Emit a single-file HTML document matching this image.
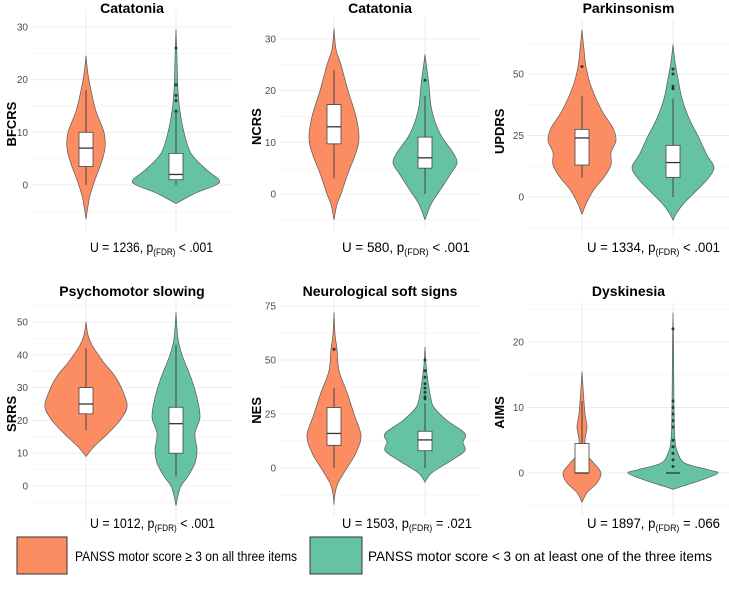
<!DOCTYPE html>
<html><head><meta charset="utf-8"><style>
body{margin:0;background:#fff;}
svg{display:block;font-family:"Liberation Sans",sans-serif;}
</style></head><body>
<svg id="c" width="729" height="593" viewBox="0 0 729 593">
<g id="panels"></g>
<g>
<rect x="17" y="537" width="50" height="37" fill="#FC8D62" stroke="#333" stroke-width="1"/>
<text x="75" y="561" font-size="14" fill="#000" textLength="222" lengthAdjust="spacingAndGlyphs">PANSS motor score ≥ 3 on all three items</text>
<rect x="310" y="537" width="52" height="37" fill="#66C2A5" stroke="#333" stroke-width="1"/>
<text x="368" y="561" font-size="14" fill="#000" textLength="344" lengthAdjust="spacingAndGlyphs">PANSS motor score &lt; 3 on at least one of the three items</text>
</g>
</svg>
<script>
// ---- data ----
const titles = ["Catatonia","Catatonia","Parkinsonism","Psychomotor slowing","Neurological soft signs","Dyskinesia"];
const yLabels = ["BFCRS","NCRS","UPDRS","SRRS","NES","AIMS"];
const ticks = [[0,10,20,30],[0,10,20,30],[0,25,50],[0,10,20,30,40,50],[0,25,50,75],[0,10,20]];
const stats = [["1236","< .001"],["580","< .001"],["1334","< .001"],["1012","< .001"],["1503","= .021"],["1897","= .066"]];
// violin profiles: [value, half-width]
const violinHigh = [
 [[24.5,0],[21,2],[18,5],[14,10],[10,18],[7,19],[4,15],[1,9],[-2,4],[-4,2],[-6.5,0]],
 [[32,0],[28,2],[25,7],[20,14],[15,22],[11,25],[8,22],[4,14],[0,7],[-2,3],[-5,0]],
 [[68,0],[60,2],[53,4],[45,9],[35,20],[28,31],[23,34],[18,29],[13,29],[8,22],[3,12],[-2,5],[-7,0]],
 [[50,0],[46,2],[43,6],[38,17],[33,30],[28,38],[24,41],[20,34],[16,22],[12,8],[9,0]],
 [[72,0],[62,1],[55,3],[45,5],[35,13],[25,20],[15,27],[7,22],[0,13],[-7,4],[-12,1],[-17,0]],
 [[15.5,0],[12,1.5],[9,3],[7,5],[5,3],[3,4],[1.5,12],[0,19],[-1.5,15],[-3,5],[-4.5,0]]
];
const violinLow = [
 [[29.5,0],[24,1],[18,2],[14,4],[10,8],[6,15],[3,30],[1,43],[0,40],[-1.5,20],[-3,5],[-3.5,0]],
 [[27,0],[24,2],[21,4],[17,6],[14,10],[11,17],[8,28],[6,32],[4,26],[1,16],[-2,6],[-5,0]],
 [[62,0],[55,2],[48,5],[40,9],[32,16],[24,26],[17,34],[12,41],[7,34],[2,22],[-3,10],[-7,3],[-9.5,0]],
 [[53,0],[45,2],[40,6],[33,15],[27,21],[21,24],[16,19],[11,21],[7,19],[3,12],[0,5],[-3,2],[-6,0]],
 [[56,0],[48,1],[40,3],[32,6],[28,9],[22,22],[16,40],[12,38],[8,40],[4,28],[0,14],[-3,5],[-6.5,0]],
 [[24.5,0],[20,0.5],[10,1],[5,2],[3,5],[1.5,12],[0.5,35],[0,45],[-1,30],[-2,10],[-2.5,0]]
];
// box: [whiskerLow, q1, median, q3, whiskerHigh]
const boxHigh = [[0,3.5,7,10,18],[3,9.7,13,17.3,24],[8,13,24,27.5,41],[17,22,25,30,42],[0,10.5,16,28,37],[0,0,0,4.5,11]];
const boxLow = [[0,1,2,6,14],[0,5,7,11,19],[0,8,14,21,40],[3,10,19,24,43],[0,8,13,17,30],[0,0,0,0,0]];
const outHigh = [[],[],[53],[],[55],[]];
const outLow = [[14,16,17,19,26],[22],[44,45,50,52],[],[32,33,35,37,39,42,45,50],[1,2,3,4,5,7,8,9,10,11,22]];
// ---- layout (pixels) ----
const layout = [
 {gx0:32,gx1:232,cx:[86,176],y0:185,ppu:5.27,vmin:-7,vmax:32,ty:13,yl:12,statX:90,statY:252,statW:123},
 {gx0:280,gx1:480,cx:[334,425],y0:194,ppu:5.17,vmin:-5,vmax:33,ty:13,yl:257,statX:342,statY:252,statW:128},
 {gx0:528,gx1:729,cx:[582,673],y0:197,ppu:2.46,vmin:-12.5,vmax:70,ty:13,yl:500,statX:587,statY:252,statW:133},
 {gx0:32,gx1:232,cx:[86,176],y0:486,ppu:3.28,vmin:-8,vmax:55,ty:296,yl:12,statX:90,statY:528,statW:125},
 {gx0:280,gx1:480,cx:[334,425],y0:468,ppu:2.16,vmin:-18,vmax:76,ty:296,yl:257,statX:342,statY:528,statW:130},
 {gx0:528,gx1:729,cx:[582,673],y0:473,ppu:6.55,vmin:-5,vmax:25,ty:296,yl:500,statX:587,statY:528,statW:133}
];
const NS="http://www.w3.org/2000/svg";
function mk(tag,attrs,parent){const e=document.createElementNS(NS,tag);for(const k in attrs)e.setAttribute(k,attrs[k]);parent.appendChild(e);return e;}
function smoothSide(pts){
  let d="";
  for(let i=0;i<pts.length-1;i++){
    const p0=pts[Math.max(i-1,0)],p1=pts[i],p2=pts[i+1],p3=pts[Math.min(i+2,pts.length-1)];
    const c1=[p1[0]+(p2[0]-p0[0])/6,p1[1]+(p2[1]-p0[1])/6];
    const c2=[p2[0]-(p3[0]-p1[0])/6,p2[1]-(p3[1]-p1[1])/6];
    d+=` C${c1[0].toFixed(1)},${c1[1].toFixed(1)} ${c2[0].toFixed(1)},${c2[1].toFixed(1)} ${p2[0].toFixed(1)},${p2[1].toFixed(1)}`;
  }
  return d;
}
const root=document.getElementById('panels');
const fills=["#FC8D62","#66C2A5"];
layout.forEach((L,i)=>{
  const g=mk('g',{},root);
  
  
  const Y=v=>L.y0-v*L.ppu;
  const gTop=Y(L.vmax), gBot=Y(L.vmin);
  const step=ticks[i][1]-ticks[i][0];
  for(let v=ticks[i][0]-step/2; v<=L.vmax; v+=step){
    if(v<L.vmin) continue;
    const m=mk('line',{x1:L.gx0,x2:L.gx1,y1:Y(v),y2:Y(v),stroke:"#f3f3f3","stroke-width":0.8},g);
    
    
  }
  ticks[i].forEach(t=>{
    const l=mk('line',{x1:L.gx0,x2:L.gx1,y1:Y(t),y2:Y(t),stroke:"#ebebeb","stroke-width":1},g);
    
    
    const tx=mk('text',{x:L.gx0-4,y:Y(t)+3.5,"font-size":10,fill:"#4d4d4d","text-anchor":"end"},g);
    tx.textContent=t;
    
    
  });
  L.cx.forEach(cx=>{
    const l=mk('line',{x1:cx,x2:cx,y1:gTop-6,y2:gBot+10,stroke:"#ebebeb","stroke-width":1},g);
    
    
  });
  const t=mk('text',{x:(L.gx0+L.gx1)/2,y:L.ty,"font-size":14,"font-weight":"bold","text-anchor":"middle",fill:"#000"},g);
  t.textContent=titles[i];
  
  
  const yl=mk('text',{x:0,y:0,"font-size":13,"font-weight":"bold","text-anchor":"middle",fill:"#000",transform:`translate(${L.yl+4},${(gTop+gBot)/2+5}) rotate(-90)`},g);
  yl.textContent=yLabels[i];
  
  
  [violinHigh[i],violinLow[i]].forEach((prof,k)=>{
    const cx=L.cx[k];
    const right=prof.map(p=>[cx+p[1],Y(p[0])]);
    const left=prof.slice().reverse().map(p=>[cx-p[1],Y(p[0])]);
    let d=`M${right[0][0]},${right[0][1]}`+smoothSide(right)+` L${left[0][0]},${left[0][1]}`+smoothSide(left)+"Z";
    const p=mk('path',{d:d,fill:fills[k],stroke:"#5a5a5a","stroke-width":0.7},g);
    
    
    const b=(k==0?boxHigh:boxLow)[i];
    const w=mk('line',{x1:cx,x2:cx,y1:Y(b[0]),y2:Y(b[4]),stroke:"#444","stroke-width":1},g);
    
    
    const bw=7;
    const r=mk('rect',{x:cx-bw,y:Y(b[3]),width:bw*2,height:Math.max(Y(b[1])-Y(b[3]),0),fill:"#fff",stroke:"#444","stroke-width":0.8},g);
    
    
    const m=mk('line',{x1:cx-bw,x2:cx+bw,y1:Y(b[2]),y2:Y(b[2]),stroke:"#333","stroke-width":1.3},g);
    
    
    (k==0?outHigh:outLow)[i].forEach(o=>{
      const c=mk('circle',{cx:cx,cy:Y(o),r:1.5,fill:"#333"},g);
      
      
    });
  });
  const st=mk('text',{x:L.statX,y:L.statY,"font-size":13.5,fill:"#000",textLength:L.statW,lengthAdjust:"spacingAndGlyphs"},g);
  
  
  st.innerHTML=`U = ${stats[i][0]}, p<tspan font-size="9" dy="3">(FDR)</tspan><tspan dy="-3"> ${stats[i][1]}</tspan>`;
});
</script>
</body></html>
